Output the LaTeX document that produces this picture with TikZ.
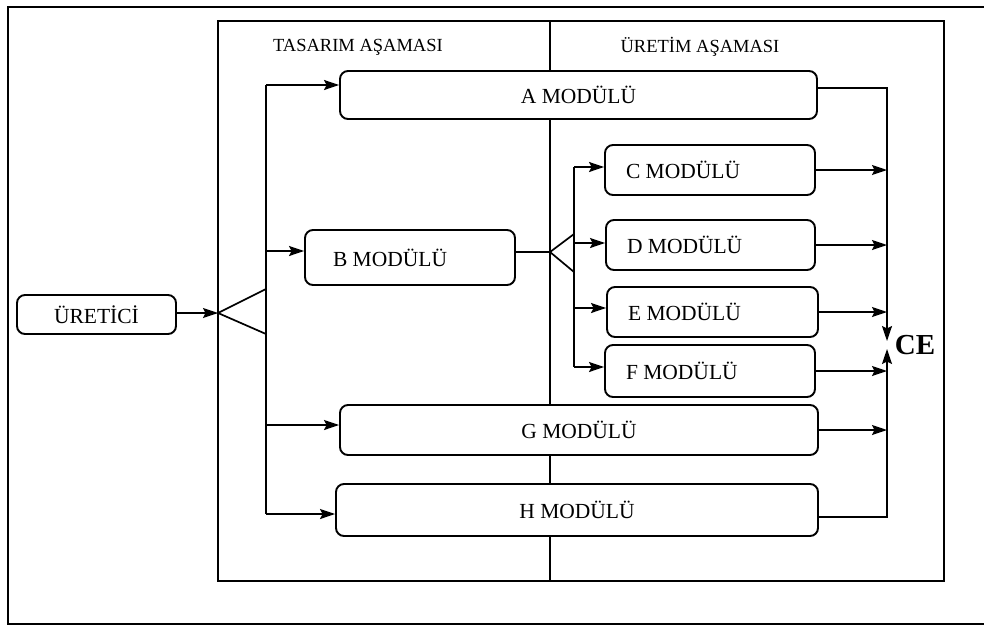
\documentclass[tikz,border=0pt]{standalone}
\usepackage{fontspec}
\setmainfont{Liberation Serif}
\usetikzlibrary{arrows.meta}
\tikzset{
  modbox/.style={draw, line width=1.9pt, rounded corners=8pt, fill=white, inner ysep=0pt, inner xsep=0pt,
    font=\fontsize{21.5}{24}\selectfont},
  arr/.style={line width=1.7pt, -{Stealth[length=15pt,width=10pt,inset=2.5pt]}},
  ln/.style={line width=1.7pt},
  frame/.style={line width=2pt},
  hdr/.style={font=\fontsize{18.5}{21}\selectfont, inner sep=0pt}
}
\begin{document}
\begin{tikzpicture}[x=1pt,y=-1pt]
\useasboundingbox (0,0) rectangle (984,627);
% frames
\draw[frame] (984,7) -- (8,7) -- (8,624) -- (984,624);
\draw[frame] (218,21) rectangle (944,581);
\draw[ln] (550,21) -- (550,581);
\node[hdr] (th) at (358,47) {TASARIM AŞAMASI};
\node[hdr] (uh) at (700,47) {ÜRETİM AŞAMASI};
% boxes
\node[modbox, minimum width=159pt, minimum height=39pt] (u) at (96.5,314.5) {ÜRETİCİ};
\node[modbox, minimum width=477pt, minimum height=48pt] (a) at (578.5,95) {A MODÜLÜ};
\node[modbox, minimum height=55pt, text width=154pt, inner xsep=28pt, align=flush left] (b) at (410,257.5) {B MODÜLÜ};
\node[modbox, minimum height=50pt, text width=168pt, inner xsep=21pt, align=flush left] (c) at (710,170) {C MODÜLÜ};
\node[modbox, minimum height=50pt, text width=167pt, inner xsep=21pt, align=flush left] (d) at (710.5,245) {D MODÜLÜ};
\node[modbox, minimum height=50pt, text width=169pt, inner xsep=21pt, align=flush left] (e) at (712.5,312) {E MODÜLÜ};
\node[modbox, minimum height=52pt, text width=168pt, inner xsep=21pt, align=flush left] (f) at (710,371) {F MODÜLÜ};
\node[modbox, minimum width=478pt, minimum height=50pt] (g) at (579,430) {G MODÜLÜ};
\node[modbox, minimum width=482pt, minimum height=52pt] (h) at (577,510) {H MODÜLÜ};
\node[font=\bfseries\fontsize{29}{30}\selectfont, inner sep=0pt] (ce) at (915,345) {CE};
% coordinates
\coordinate (f1) at (218,313);
\coordinate (f1u) at (266,289);
\coordinate (f1d) at (266,334);
\coordinate (tA) at (266,85);
\coordinate (tB) at (266,251);
\coordinate (tG) at (266,425);
\coordinate (tH) at (266,514);
\coordinate (f2) at (550,252);
\coordinate (f2u) at (574,234);
\coordinate (f2d) at (574,272);
\coordinate (tC) at (574,167);
\coordinate (tD) at (574,243);
\coordinate (tE) at (574,308);
\coordinate (tF) at (574,367);
\coordinate (ceT) at (887,341);
\coordinate (ceB) at (887,349);
% input side
\draw[arr] (u.east |- f1) -- (f1);
\draw[ln] (f1u) -- (f1) -- (f1d);
\draw[ln] (tA) -- (tH);
\draw[arr] (tA) -- (tA -| a.west);
\draw[arr] (tB) -- (tB -| b.west);
\draw[arr] (tG) -- (tG -| g.west);
\draw[arr] (tH) -- (tH -| h.west);
\draw[ln] ([yshift=5.5pt]b.east) -- (f2);
\draw[ln] (f2u) -- (f2) -- (f2d);
\draw[ln] (tC) -- (tF);
\draw[arr] (tC) -- (tC -| c.west);
\draw[arr] (tD) -- (tD -| d.west);
\draw[arr] (tE) -- (tE -| e.west);
\draw[arr] (tF) -- (tF -| f.west);
% output side
\draw[arr] ([yshift=7pt]a.east) -| (ceT);
\draw[arr] ([yshift=-7pt]h.east) -| (ceB);
\draw[arr] (c.east) -- (c.east -| ceT);
\draw[arr] (d.east) -- (d.east -| ceT);
\draw[arr] (e.east) -- (e.east -| ceT);
\draw[arr] (f.east) -- (f.east -| ceT);
\draw[arr] (g.east) -- (g.east -| ceT);
\end{tikzpicture}
\end{document}
